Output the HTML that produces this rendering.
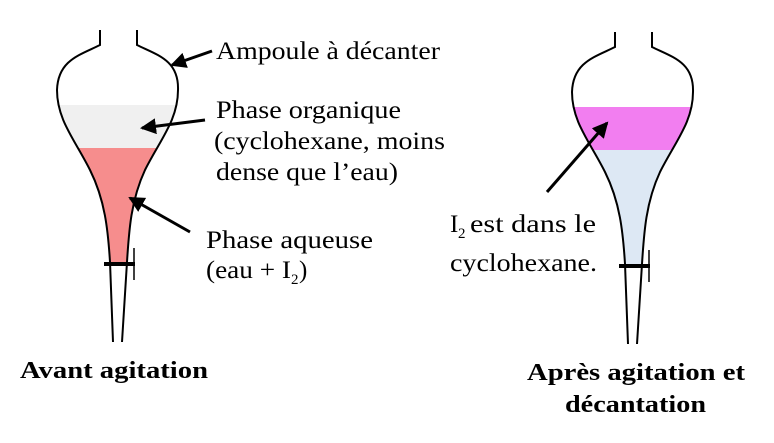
<!DOCTYPE html>
<html><head><meta charset="utf-8"><style>
html,body{margin:0;padding:0;background:#fff;}
svg{display:block;}
text{font-family:"Liberation Serif",serif;font-size:25px;fill:#000;}
text.s{font-size:15px;}
text.b{font-weight:bold;font-size:24px;}
</style></head><body>
<svg width="774" height="443" viewBox="0 0 774 443" xmlns="http://www.w3.org/2000/svg">
<defs>
<path id="f" d="M100,30 L100,45 C80,55 58,60 57,90 C57,120 75,140 90,170 C105,200 108,230 110,262 L113,342 L122,342 L127,262 C129,230 131,200 145,170 C160,140 178,120 178,90 C179,60 157,55 137,45 L137,30"/>
<path id="o" d="M100,30 L100,45 C80,55 58,60 57,90 C57,120 75,140 90,170 C105,200 108,230 110,262 L113,342 M122,342 L127,262 C129,230 131,200 145,170 C160,140 178,120 178,90 C179,60 157,55 137,45 L137,30"/>
<clipPath id="c"><use href="#f"/></clipPath>
<marker id="a2" markerWidth="16" markerHeight="16" refX="14" refY="8" orient="auto" markerUnits="userSpaceOnUse" viewBox="0 0 16 16"><path d="M0,0 L16,8 L0,16z" fill="#000"/></marker>
</defs>
<g clip-path="url(#c)">
<rect x="40" y="105" width="160" height="43" fill="#f0f0f0"/>
<rect x="40" y="148" width="160" height="114" fill="#f68d8d"/>
</g>
<use href="#o" fill="none" stroke="#000" stroke-width="2"/>
<line x1="104" y1="264" x2="135" y2="264" stroke="#000" stroke-width="4"/>
<line x1="134" y1="248" x2="134" y2="280" stroke="#000" stroke-width="1.5"/>
<g transform="translate(515,2)">
<g clip-path="url(#c)">
<rect x="40" y="105" width="160" height="43" fill="#f27ef0"/>
<rect x="40" y="148" width="160" height="114" fill="#dde8f4"/>
</g>
<use href="#o" fill="none" stroke="#000" stroke-width="2"/>
<line x1="104" y1="264" x2="135" y2="264" stroke="#000" stroke-width="4"/>
<line x1="134" y1="248" x2="134" y2="280" stroke="#000" stroke-width="1.5"/>
</g>
<g stroke="#000" stroke-width="3">
<line x1="212" y1="51" x2="172" y2="65" marker-end="url(#a2)"/>
<line x1="205" y1="120" x2="142" y2="128" marker-end="url(#a2)"/>
<line x1="190" y1="232" x2="130" y2="198" marker-end="url(#a2)"/>
<line x1="547" y1="192" x2="607" y2="123" marker-end="url(#a2)"/>
</g>
<text x="216" y="59" textLength="224" lengthAdjust="spacingAndGlyphs">Ampoule à décanter</text>
<text x="216" y="118" textLength="185" lengthAdjust="spacingAndGlyphs">Phase organique</text>
<text x="214" y="149" textLength="231" lengthAdjust="spacingAndGlyphs">(cyclohexane, moins</text>
<text x="216" y="180" textLength="182" lengthAdjust="spacingAndGlyphs">dense que l’eau)</text>
<text x="206" y="248" textLength="167" lengthAdjust="spacingAndGlyphs">Phase aqueuse</text>
<text x="206" y="278" textLength="85" lengthAdjust="spacingAndGlyphs">(eau + I</text>
<text class="s" x="291" y="284">2</text>
<text x="299" y="278">)</text>
<text x="450" y="232">I</text>
<text class="s" x="458" y="238">2</text>
<text x="470" y="232" textLength="126" lengthAdjust="spacingAndGlyphs">est dans le</text>
<text x="450" y="271" textLength="147" lengthAdjust="spacingAndGlyphs">cyclohexane.</text>
<text class="b" x="20" y="378" textLength="188" lengthAdjust="spacingAndGlyphs">Avant agitation</text>
<text class="b" x="527" y="380" textLength="218" lengthAdjust="spacingAndGlyphs">Après agitation et</text>
<text class="b" x="565" y="412" textLength="141" lengthAdjust="spacingAndGlyphs">décantation</text>
</svg>
</body></html>
